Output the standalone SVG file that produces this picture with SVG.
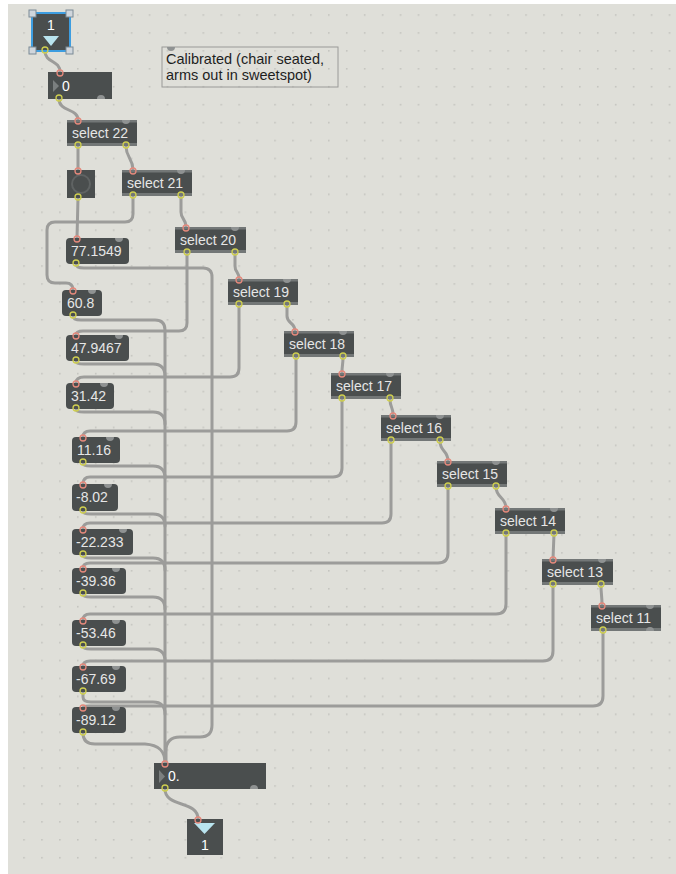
<svg xmlns="http://www.w3.org/2000/svg" width="676" height="874" viewBox="0 0 676 874">
<style>
.bg{fill:#dfdfd9}
.cord{fill:none;stroke:#9c9c9a;stroke-width:3;stroke-linecap:round;stroke-linejoin:round}
.obj{fill:#4a4e4e}
.strip{fill:#737777}
.num{fill:#4a4e4e}
.t{font-family:"Liberation Sans",Arial,sans-serif;font-size:14px;fill:#e6e6e6}
.ct{font-family:"Liberation Sans",Arial,sans-serif;font-size:14.5px;fill:#1e1e1e}
.in{fill:none;stroke:#e5897c;stroke-width:1.3}
.out{fill:none;stroke:#cfcf50;stroke-width:1.3}
.blob{fill:#8f9292}
.tri{fill:#7b7f7f}
</style>
<defs>
<pattern id="grid" patternUnits="userSpaceOnUse" x="23.2" y="14.2" width="17.93" height="17.93">
<rect x="0" y="0" width="1.6" height="1.6" fill="#c4c4bf"/>
</pattern>
</defs>
<rect x="0" y="0" width="676" height="874" fill="#ffffff"/>
<rect class="bg" x="8" y="4" width="668" height="870"/>
<rect x="8" y="4" width="668" height="870" fill="url(#grid)"/>

<g id="connectors">
<path class="cord" d="M45,51 C45,63 60,60 60,72"/>
<path class="cord" d="M59,99 C59,112 78,108 78,120"/>
<path class="cord" d="M78,146 L78,170"/>
<path class="cord" d="M126,146 C126,158 133,158 133,170"/>
<path class="cord" d="M78,198 L77,238"/>
<path class="cord" d="M133,196 V214 Q133,222 125,222 H55 Q47,222 47,230 V275 Q47,283 55,283 H66 Q73,283 73,290"/>
<path class="cord" d="M181,196 V212 C181,220 186,218 186,227"/>
<path class="cord" d="M187,253 V323 Q187,331 179,331 H83 Q76,331 76,335"/>
<path class="cord" d="M235,253 V266 C235,273 239,271 239,279"/>
<path class="cord" d="M76,264 Q76,268 84,268 H203 Q212,268 212,277 V725 Q212,737 200,737 H180 Q166,737 166,751 V763"/>
<path class="cord" d="M73,316 Q73,320 81,320 H155 Q165,320 165,330 V763"/>
<path class="cord" d="M76,361 Q76,364 84,364 H153 Q165,364 165,376"/>
<path class="cord" d="M239,305 V368 Q239,377 230,377 H84 Q76,377 76,383"/>
<path class="cord" d="M287,305 V316 C287,324 295,322 295,331"/>
<path class="cord" d="M76,409 Q76,412 84,412 H153 Q165,412 165,424"/>
<path class="cord" d="M296,357 V422 Q296,431 287,431 H90 Q83,431 83,437"/>
<path class="cord" d="M343,357 C343,366 342,364 342,373"/>
<path class="cord" d="M83,463 Q83,466 91,466 H153 Q165,466 165,478"/>
<path class="cord" d="M342,399 V468 Q342,477 333,477 H90 Q83,477 83,484"/>
<path class="cord" d="M390,399 C390,408 393,406 393,415"/>
<path class="cord" d="M83,511 Q83,514 91,514 H153 Q165,514 165,526"/>
<path class="cord" d="M391,441 V514 Q391,523 382,523 H90 Q83,523 83,529"/>
<path class="cord" d="M440,441 C440,452 448,450 448,461"/>
<path class="cord" d="M83,555 Q83,558 91,558 H153 Q165,558 165,570"/>
<path class="cord" d="M448,487 V553 Q448,563 438,563 H90 Q83,563 83,568"/>
<path class="cord" d="M496,487 C496,498 506,497 506,508"/>
<path class="cord" d="M83,594 Q83,597 91,597 H153 Q165,597 165,609"/>
<path class="cord" d="M506,534 V604 Q506,614 496,614 H90 Q83,614 83,620"/>
<path class="cord" d="M554,534 L553,559"/>
<path class="cord" d="M83,646 Q83,649 91,649 H153 Q165,649 165,661"/>
<path class="cord" d="M553,585 V651 Q553,661 543,661 H90 Q83,661 83,666"/>
<path class="cord" d="M601,585 C601,595 602,595 602,605"/>
<path class="cord" d="M83,692 V697 Q83,702 91,702 H153 Q165,702 165,714"/>
<path class="cord" d="M603,631 V696 Q603,706 593,706 H89 Q83,706 83,708"/>
<path class="cord" d="M83,733 Q83,744 95,744 H145 C160,745 165,752 165,763"/>
<path class="cord" d="M165,789 C165,808 198,800 198,819"/>
</g>

<g id="inlet1">
<rect x="32" y="13" width="38" height="38" fill="#4a4e4e" stroke="#3d9de0" stroke-width="2"/>
<text class="t" x="51" y="30" text-anchor="middle" style="fill:#ffffff">1</text>
<path d="M43,36 H59 L51,46 Z" fill="#b9e4ef"/>
<rect x="29" y="10" width="7" height="7" fill="#d0d6dc" stroke="#7b8a96" stroke-width="1"/>
<rect x="66" y="10" width="7" height="7" fill="#d0d6dc" stroke="#7b8a96" stroke-width="1"/>
<rect x="29" y="47" width="7" height="7" fill="#d0d6dc" stroke="#7b8a96" stroke-width="1"/>
<rect x="66" y="47" width="7" height="7" fill="#d0d6dc" stroke="#7b8a96" stroke-width="1"/>
<circle class="out" cx="45" cy="50" r="3"/>
</g>

<g id="comment">
<rect x="162" y="47" width="176" height="40" fill="none" stroke="#9a9a98" stroke-width="1"/>
<path class="blob" d="M167,47 A4,4 0 0 0 175,47 Z"/>
<text class="ct" x="166" y="64">Calibrated (chair seated,</text>
<text class="ct" x="166" y="80">arms out in sweetspot)</text>
</g>

<g id="num0">
<rect class="num" x="48" y="72" width="64" height="27"/>
<path class="tri" d="M53,80 L59,86 L53,92 Z"/>
<text class="t" x="62" y="91" style="fill:#ffffff">0</text>
<path class="blob" d="M97,99 A4,4 0 0 1 105,99 Z"/>
<circle class="in" cx="60" cy="73" r="3"/>
<circle class="out" cx="59" cy="98" r="3"/>
</g>

<g id="sel22">
<rect class="obj" x="67" y="120" width="70" height="26"/>
<rect class="strip" x="67" y="120" width="70" height="2.5"/>
<rect class="strip" x="67" y="143" width="70" height="3"/>
<text class="t" x="72" y="138">select 22</text>
<path class="blob" d="M122,120 A4,4 0 0 0 130,120 Z"/>
<circle class="in" cx="78" cy="121" r="3"/>
<circle class="out" cx="78" cy="145" r="3"/>
<circle class="out" cx="126" cy="145" r="3"/>
</g>

<g id="button">
<rect class="obj" x="67" y="170" width="28" height="28"/>
<circle cx="81" cy="184" r="9" fill="none" stroke="#5f6363" stroke-width="2"/>
<circle class="in" cx="78" cy="171" r="3"/>
<circle class="out" cx="78" cy="197" r="3"/>
</g>

<g id="sel21">
<rect class="obj" x="122" y="170" width="70" height="26"/>
<rect class="strip" x="122" y="170" width="70" height="2.5"/>
<rect class="strip" x="122" y="193" width="70" height="3"/>
<text class="t" x="127" y="188">select 21</text>
<path class="blob" d="M177,170 A4,4 0 0 0 185,170 Z"/>
<circle class="in" cx="133" cy="171" r="3"/>
<circle class="out" cx="133" cy="195" r="3"/>
<circle class="out" cx="181" cy="195" r="3"/>
</g>

<g id="sel20">
<rect class="obj" x="175" y="227" width="71" height="26"/>
<rect class="strip" x="175" y="227" width="71" height="2.5"/>
<rect class="strip" x="175" y="250" width="71" height="3"/>
<text class="t" x="180" y="245">select 20</text>
<path class="blob" d="M231,227 A4,4 0 0 0 239,227 Z"/>
<circle class="in" cx="186" cy="228" r="3"/>
<circle class="out" cx="187" cy="252" r="3"/>
<circle class="out" cx="235" cy="252" r="3"/>
</g>

<g id="sel19">
<rect class="obj" x="228" y="279" width="70" height="26"/>
<rect class="strip" x="228" y="279" width="70" height="2.5"/>
<rect class="strip" x="228" y="302" width="70" height="3"/>
<text class="t" x="233" y="297">select 19</text>
<path class="blob" d="M283,279 A4,4 0 0 0 291,279 Z"/>
<circle class="in" cx="239" cy="280" r="3"/>
<circle class="out" cx="239" cy="304" r="3"/>
<circle class="out" cx="287" cy="304" r="3"/>
</g>

<g id="sel18">
<rect class="obj" x="284" y="331" width="70" height="26"/>
<rect class="strip" x="284" y="331" width="70" height="2.5"/>
<rect class="strip" x="284" y="354" width="70" height="3"/>
<text class="t" x="289" y="349">select 18</text>
<path class="blob" d="M339,331 A4,4 0 0 0 347,331 Z"/>
<circle class="in" cx="295" cy="332" r="3"/>
<circle class="out" cx="296" cy="356" r="3"/>
<circle class="out" cx="343" cy="356" r="3"/>
</g>

<g id="sel17">
<rect class="obj" x="331" y="373" width="70" height="26"/>
<rect class="strip" x="331" y="373" width="70" height="2.5"/>
<rect class="strip" x="331" y="396" width="70" height="3"/>
<text class="t" x="336" y="391">select 17</text>
<path class="blob" d="M386,373 A4,4 0 0 0 394,373 Z"/>
<circle class="in" cx="342" cy="374" r="3"/>
<circle class="out" cx="342" cy="398" r="3"/>
<circle class="out" cx="390" cy="398" r="3"/>
</g>

<g id="sel16">
<rect class="obj" x="381" y="415" width="70" height="26"/>
<rect class="strip" x="381" y="415" width="70" height="2.5"/>
<rect class="strip" x="381" y="438" width="70" height="3"/>
<text class="t" x="386" y="433">select 16</text>
<path class="blob" d="M436,415 A4,4 0 0 0 444,415 Z"/>
<circle class="in" cx="393" cy="416" r="3"/>
<circle class="out" cx="391" cy="440" r="3"/>
<circle class="out" cx="440" cy="440" r="3"/>
</g>

<g id="sel15">
<rect class="obj" x="437" y="461" width="70" height="26"/>
<rect class="strip" x="437" y="461" width="70" height="2.5"/>
<rect class="strip" x="437" y="484" width="70" height="3"/>
<text class="t" x="442" y="479">select 15</text>
<path class="blob" d="M492,461 A4,4 0 0 0 500,461 Z"/>
<circle class="in" cx="448" cy="462" r="3"/>
<circle class="out" cx="448" cy="486" r="3"/>
<circle class="out" cx="496" cy="486" r="3"/>
</g>

<g id="sel14">
<rect class="obj" x="495" y="508" width="70" height="26"/>
<rect class="strip" x="495" y="508" width="70" height="2.5"/>
<rect class="strip" x="495" y="531" width="70" height="3"/>
<text class="t" x="500" y="526">select 14</text>
<path class="blob" d="M550,508 A4,4 0 0 0 558,508 Z"/>
<circle class="in" cx="506" cy="509" r="3"/>
<circle class="out" cx="506" cy="533" r="3"/>
<circle class="out" cx="554" cy="533" r="3"/>
</g>

<g id="sel13">
<rect class="obj" x="542" y="559" width="71" height="26"/>
<rect class="strip" x="542" y="559" width="71" height="2.5"/>
<rect class="strip" x="542" y="582" width="71" height="3"/>
<text class="t" x="547" y="577">select 13</text>
<path class="blob" d="M598,559 A4,4 0 0 0 606,559 Z"/>
<circle class="in" cx="553" cy="560" r="3"/>
<circle class="out" cx="553" cy="584" r="3"/>
<circle class="out" cx="601" cy="584" r="3"/>
</g>

<g id="sel11">
<rect class="obj" x="591" y="605" width="70" height="26"/>
<rect class="strip" x="591" y="605" width="70" height="2.5"/>
<rect class="strip" x="591" y="628" width="70" height="3"/>
<text class="t" x="596" y="623">select 11</text>
<path class="blob" d="M646,605 A4,4 0 0 0 654,605 Z"/>
<path class="blob" d="M646,631 A4,4 0 0 1 654,631 Z"/>
<circle class="in" cx="602" cy="606" r="3"/>
<circle class="out" cx="603" cy="630" r="3"/>
</g>

<g id="n77">
<rect class="num" x="66" y="238" width="63" height="26" rx="4"/>
<text class="t" x="71" y="256">77.1549</text>
<path class="blob" d="M115,238 A4,4 0 0 0 123,238 Z"/>
<circle class="in" cx="77" cy="239" r="3"/>
<circle class="out" cx="76" cy="263" r="3"/>
</g>

<g id="n608">
<rect class="num" x="62" y="290" width="40" height="26" rx="4"/>
<text class="t" x="67" y="308">60.8</text>
<path class="blob" d="M88,290 A4,4 0 0 0 96,290 Z"/>
<circle class="in" cx="73" cy="291" r="3"/>
<circle class="out" cx="73" cy="315" r="3"/>
</g>

<g id="n479">
<rect class="num" x="66" y="335" width="63" height="26" rx="4"/>
<text class="t" x="71" y="353">47.9467</text>
<path class="blob" d="M115,335 A4,4 0 0 0 123,335 Z"/>
<circle class="in" cx="76" cy="336" r="3"/>
<circle class="out" cx="76" cy="360" r="3"/>
</g>

<g id="n3142">
<rect class="num" x="66" y="383" width="48" height="26" rx="4"/>
<text class="t" x="71" y="401">31.42</text>
<path class="blob" d="M100,383 A4,4 0 0 0 108,383 Z"/>
<circle class="in" cx="76" cy="384" r="3"/>
<circle class="out" cx="76" cy="408" r="3"/>
</g>

<g id="n1116">
<rect class="num" x="72" y="437" width="48" height="26" rx="4"/>
<text class="t" x="77" y="455">11.16</text>
<path class="blob" d="M106,437 A4,4 0 0 0 114,437 Z"/>
<circle class="in" cx="83" cy="438" r="3"/>
<circle class="out" cx="83" cy="462" r="3"/>
</g>

<g id="n802">
<rect class="num" x="72" y="484" width="46" height="27" rx="4"/>
<text class="t" x="76" y="502">-8.02</text>
<path class="blob" d="M104,484 A4,4 0 0 0 112,484 Z"/>
<circle class="in" cx="83" cy="485" r="3"/>
<circle class="out" cx="83" cy="510" r="3"/>
</g>

<g id="n22233">
<rect class="num" x="72" y="529" width="61" height="26" rx="4"/>
<text class="t" x="76" y="547">-22.233</text>
<path class="blob" d="M119,529 A4,4 0 0 0 127,529 Z"/>
<circle class="in" cx="83" cy="530" r="3"/>
<circle class="out" cx="83" cy="554" r="3"/>
</g>

<g id="n3936">
<rect class="num" x="72" y="568" width="54" height="26" rx="4"/>
<text class="t" x="76" y="586">-39.36</text>
<path class="blob" d="M112,568 A4,4 0 0 0 120,568 Z"/>
<circle class="in" cx="83" cy="569" r="3"/>
<circle class="out" cx="83" cy="593" r="3"/>
</g>

<g id="n5346">
<rect class="num" x="72" y="620" width="54" height="26" rx="4"/>
<text class="t" x="76" y="638">-53.46</text>
<path class="blob" d="M112,620 A4,4 0 0 0 120,620 Z"/>
<circle class="in" cx="83" cy="621" r="3"/>
<circle class="out" cx="83" cy="645" r="3"/>
</g>

<g id="n6769">
<rect class="num" x="72" y="666" width="54" height="26" rx="4"/>
<text class="t" x="76" y="684">-67.69</text>
<path class="blob" d="M112,666 A4,4 0 0 0 120,666 Z"/>
<circle class="in" cx="83" cy="667" r="3"/>
<circle class="out" cx="83" cy="691" r="3"/>
</g>

<g id="n8912">
<rect class="num" x="72" y="707" width="54" height="26" rx="4"/>
<text class="t" x="76" y="725">-89.12</text>
<path class="blob" d="M112,707 A4,4 0 0 0 120,707 Z"/>
<circle class="in" cx="83" cy="708" r="3"/>
<circle class="out" cx="83" cy="732" r="3"/>
</g>

<g id="num0dot">
<rect class="num" x="154" y="763" width="112" height="26"/>
<path class="tri" d="M159,770 L165,776.5 L159,783 Z"/>
<text class="t" x="168" y="781" style="fill:#ffffff">0.</text>
<path class="blob" d="M250,789 A4,4 0 0 1 258,789 Z"/>
<circle class="in" cx="165" cy="764" r="3"/>
<circle class="out" cx="165" cy="788" r="3"/>
</g>

<g id="outlet1">
<rect class="obj" x="187" y="819" width="36" height="36"/>
<path d="M194,823 H215 L204.5,834 Z" fill="#b9e4ef"/>
<text class="t" x="205" y="850" text-anchor="middle" style="fill:#ffffff">1</text>
<circle class="in" cx="198" cy="820" r="3"/>
</g>
</svg>
